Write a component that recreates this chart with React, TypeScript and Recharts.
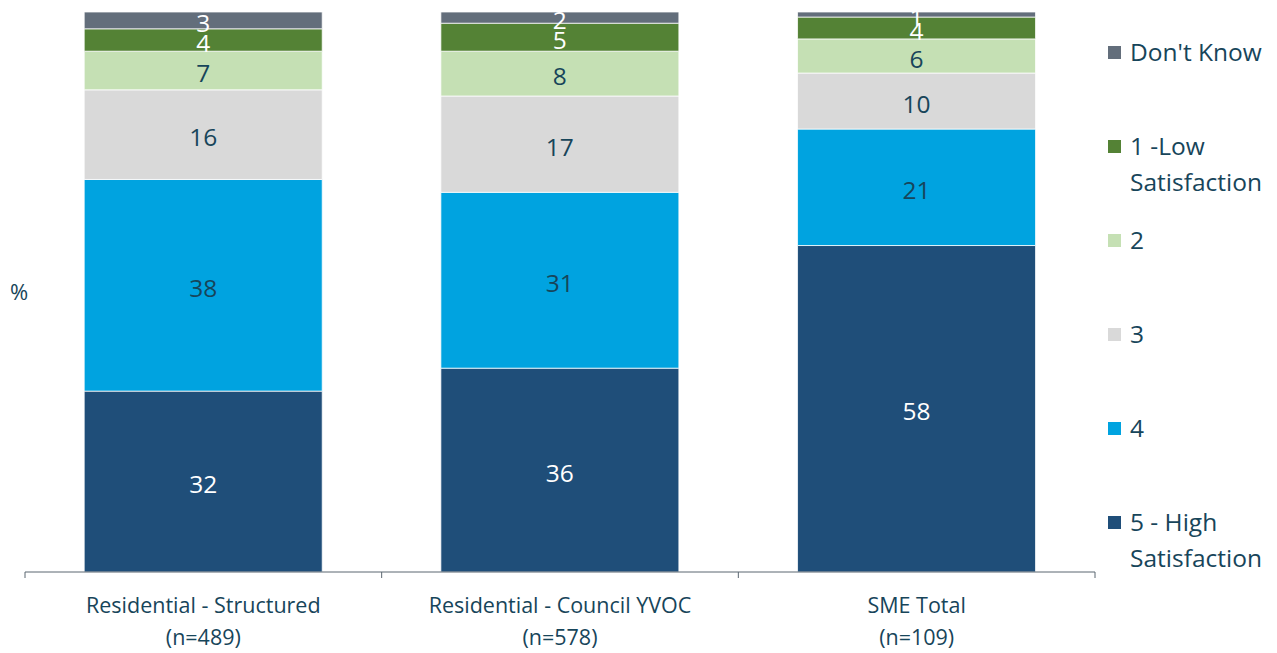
import { BarChart, Bar, XAxis, YAxis, Legend, LabelList } from 'recharts';

const categories = ['Residential - Structured', 'Residential - Council YVOC', 'SME Total'];
const sampleSizes = ['(n=489)', '(n=578)', '(n=109)'];

const high = [32.3, 36.4, 58.3];
const four = [37.8, 31.4, 20.8];
const three = [16.0, 17.2, 10.0];
const two = [6.9, 8.0, 6.1];
const low = [4.0, 5.0, 3.9];
const dontKnow = [3.0, 2.0, 0.9];

const series = [
  { key: 'high', name: '5 - High Satisfaction', lines: ['5 - High', 'Satisfaction'], color: '#1f4e79', label: '#ffffff' },
  { key: 'four', name: '4', lines: ['4'], color: '#00a3e0', label: '#17455a' },
  { key: 'three', name: '3', lines: ['3'], color: '#d9d9d9', label: '#17455a' },
  { key: 'two', name: '2', lines: ['2'], color: '#c5e0b4', label: '#17455a' },
  { key: 'low', name: '1 -Low Satisfaction', lines: ['1 -Low', 'Satisfaction'], color: '#548235', label: '#ffffff' },
  { key: 'dontKnow', name: "Don't Know", lines: ["Don't Know"], color: '#636e7b', label: '#ffffff' },
];

const data = categories.map((cat, i) => ({
  cat,
  high: high[i],
  four: four[i],
  three: three[i],
  two: two[i],
  low: low[i],
  dontKnow: dontKnow[i],
}));

const WIDTH = 1277;
const HEIGHT = 653;
const LEGEND_W = 169;
// legend width gets added to the right offset by recharts
const MARGIN = { top: 12, right: 182 - LEGEND_W, bottom: 0, left: 0 };
const Y_WIDTH = 25;
const TEXT = '#17455a';
const FONT = '"Open Sans", "Noto Sans", sans-serif';
const bandWidth = (WIDTH - 182 - Y_WIDTH) / categories.length;

const CategoryTick = (props: any) => {
  const { x, y, payload, index } = props;
  const left = x - bandWidth / 2;
  const right = x + bandWidth / 2;
  return (
    <g>
      <line x1={left} x2={left} y1={y - 6} y2={y} stroke="#5b6770" />
      {index === categories.length - 1 && <line x1={right} x2={right} y1={y - 6} y2={y} stroke="#5b6770" />}
      <text x={x} y={y} textAnchor="middle" fill={TEXT} fontSize={21.5} fontFamily={FONT}>
        <tspan x={x} dy={35}>{payload.value}</tspan>
        <tspan x={x} dy={32}>{sampleSizes[index]}</tspan>
      </text>
    </g>
  );
};

const LegendContent = () => (
  <div style={{ fontFamily: FONT, color: TEXT, fontSize: 24.5, width: LEGEND_W }}>
    {[...series].reverse().map((s) => (
      <div key={s.key} style={{ height: 94, position: 'relative' }}>
        <div style={{ position: 'absolute', left: 0, top: 12, width: 13, height: 13, background: s.color }} />
        <div style={{ position: 'absolute', left: 22, top: 0, lineHeight: '36px', whiteSpace: 'nowrap' }}>
          {s.lines.map((l) => (
            <div key={l}>{l}</div>
          ))}
        </div>
      </div>
    ))}
  </div>
);

export default function App() {
  return (
    <div style={{ position: 'absolute', left: 0, top: 0, background: '#fff' }}>
      <BarChart width={WIDTH} height={HEIGHT} data={data} margin={MARGIN} barCategoryGap="16.6%">
        <XAxis
          dataKey="cat"
          height={81}
          axisLine={{ stroke: '#5b6770' }}
          tickLine={false}
          tickSize={6}
          tickMargin={0}
          interval={0}
          tick={<CategoryTick />}
        />
        <YAxis
          width={Y_WIDTH}
          domain={[0, 100]}
          tick={false}
          axisLine={false}
          tickLine={false}
          label={{ value: '%', position: 'insideLeft', offset: 10, fill: TEXT, fontSize: 22, fontFamily: FONT }}
        />
        <Legend
          layout="vertical"
          align="right"
          verticalAlign="top"
          wrapperStyle={{ left: 1108, top: 34, width: LEGEND_W }}
          content={<LegendContent />}
        />
        {series.map((s) => (
          <Bar
            key={s.key}
            dataKey={s.key}
            name={s.name}
            stackId="a"
            fill={s.color}
            stroke="#ffffff"
            strokeWidth={0.75}
            isAnimationActive={false}
          >
            <LabelList
              dataKey={s.key}
              position="center"
              fill={s.label}
              fontSize={24.5}
              fontFamily={FONT}
              dy={3}
              formatter={(v: any) => Math.round(Number(v))}
            />
          </Bar>
        ))}
      </BarChart>
    </div>
  );
}
